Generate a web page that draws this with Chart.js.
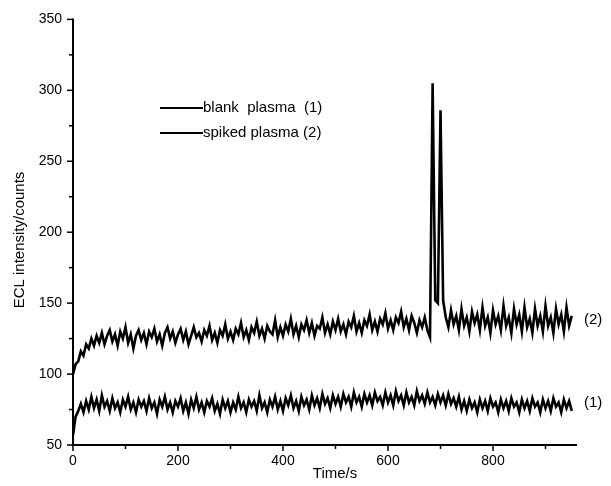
<!DOCTYPE html>
<html>
<head>
<meta charset="utf-8">
<script src="https://cdn.jsdelivr.net/npm/chart.js@4.4.0/dist/chart.umd.min.js"></script>
<style>
  html, body { margin: 0; padding: 0; background: #fff; }
  #wrap { width: 611px; height: 486px; position: relative; }
</style>
</head>
<body>
<div id="wrap"><canvas id="chart" width="611" height="486"></canvas></div>
<script>
// sampling interval of the traces, seconds
const TIME_STEP = 5;

const xTicks = [0, 200, 400, 600, 800];
const yTicks = [50, 100, 150, 200, 250, 300, 350];

const seriesNames = ['blank  plasma  (1)', 'spiked plasma (2)'];
const traceTags = ['(1)', '(2)'];

// blank plasma (1), one value every 5 s from 0 to 950 s
const blankPlasma = [
  57,70,74,79,73,81,75,84,76,82,
  74,85,77,81,74,83,76,80,73,82,
  77,84,75,80,73,82,77,81,74,83,
  76,80,72,82,77,84,75,80,73,81,
  77,83,74,80,72,82,76,84,75,80,
  73,81,77,83,74,79,72,82,76,81,
  73,80,75,84,76,80,73,82,77,81,
  74,85,76,80,73,82,77,84,75,81,
  74,83,78,85,76,81,74,84,78,82,
  75,85,78,83,76,86,79,83,76,85,
  79,84,77,86,80,84,77,87,80,84,
  77,86,80,85,78,87,81,84,78,87,
  80,85,78,88,81,85,78,87,80,84,
  78,88,81,85,79,87,80,84,78,86,
  80,85,78,86,79,83,77,84,75,81,
  74,82,76,80,73,82,76,81,74,83,
  77,80,73,82,76,81,74,83,77,80,
  73,82,76,81,74,83,77,80,73,82,
  76,81,74,83,77,80,73,82,76,81,
  74
];

// spiked plasma (2)
const spikedPlasma = [
  100,107,109,116,113,121,118,125,120,127,
  122,129,121,127,131,123,128,120,130,125,
  133,122,128,118,127,131,124,129,121,130,
  126,132,123,128,120,129,133,125,130,122,
  128,132,124,130,121,127,133,126,129,123,
  131,127,134,124,129,122,131,127,135,125,
  130,124,132,128,136,126,131,124,133,129,
  137,127,132,125,134,130,128,138,126,133,
  127,135,130,139,128,134,126,135,131,138,
  129,136,127,134,132,140,129,135,128,137,
  131,139,130,135,128,137,133,141,130,136,
  129,138,134,142,131,137,130,139,135,143,
  132,138,131,140,136,144,133,139,131,141,
  136,129,138,133,140,131,126,305,152,150,
  286,152,140,133,145,135,141,131,146,134,
  140,130,144,136,142,131,147,134,140,129,
  145,135,141,131,148,134,140,129,146,135,
  142,130,147,133,139,129,146,134,141,130,
  148,134,140,129,146,135,142,130,147,134,
  141
];

function toPoints(values) {
  return values.map((v, i) => ({ x: i * TIME_STEP, y: v }));
}

const FONT = '"Liberation Sans", Arial, sans-serif';

const decorPlugin = {
  id: 'decor',
  afterDraw(chart) {
    const ctx = chart.ctx;
    const xs = chart.scales.x;
    const ys = chart.scales.y;
    const area = chart.chartArea;
    ctx.save();
    ctx.strokeStyle = '#000';
    ctx.lineWidth = 2;
    // axis lines
    ctx.beginPath();
    ctx.moveTo(area.left, area.top - 1);
    ctx.lineTo(area.left, area.bottom);
    ctx.lineTo(area.right, area.bottom);
    ctx.stroke();
    // major and minor ticks
    ctx.lineWidth = 1.5;
    for (let v = 0; v <= xs.max; v += 100) {
      const px = xs.getPixelForValue(v);
      const len = v % 200 === 0 ? 6 : 4;
      ctx.beginPath();
      ctx.moveTo(px, area.bottom);
      ctx.lineTo(px, area.bottom + len);
      ctx.stroke();
    }
    for (let v = ys.min; v <= ys.max; v += 25) {
      const py = ys.getPixelForValue(v);
      const len = v % 50 === 0 ? 6 : 4;
      ctx.beginPath();
      ctx.moveTo(area.left, py);
      ctx.lineTo(area.left - len, py);
      ctx.stroke();
    }
    // axis titles
    ctx.fillStyle = '#000';
    ctx.font = '15px ' + FONT;
    ctx.textAlign = 'center';
    ctx.textBaseline = 'middle';
    ctx.fillText('Time/s', 335, 474);
    ctx.save();
    ctx.translate(20, 240);
    ctx.rotate(-Math.PI / 2);
    ctx.fillText('ECL intensity/counts', 0, 0);
    ctx.restore();
    // legend
    ctx.textAlign = 'left';
    ctx.lineWidth = 1.8;
    const legY = [108, 133];
    seriesNames.forEach((name, i) => {
      ctx.beginPath();
      ctx.moveTo(160, legY[i]);
      ctx.lineTo(203, legY[i]);
      ctx.stroke();
      ctx.fillText(name, 203, legY[i]);
    });
    // trace tags on the right
    ctx.font = '15px ' + FONT;
    ctx.fillText(traceTags[1], 584, ys.getPixelForValue(138));
    ctx.fillText(traceTags[0], 584, ys.getPixelForValue(80));
    ctx.restore();
  }
};

function traceStyle(label, values) {
  return {
    label,
    data: toPoints(values),
    showLine: true,
    borderColor: '#000',
    borderWidth: 2.6,
    pointRadius: 0,
    tension: 0
  };
}

new Chart(document.getElementById('chart'), {
  type: 'scatter',
  data: {
    datasets: [
      traceStyle(seriesNames[0], blankPlasma),
      traceStyle(seriesNames[1], spikedPlasma)
    ]
  },
  options: {
    responsive: false,
    animation: false,
    layout: { padding: { left: 0, right: 34, top: 18, bottom: 0 } },
    plugins: { legend: { display: false }, tooltip: { enabled: false } },
    scales: {
      x: {
        type: 'linear',
        min: 0,
        max: 960,
        afterFit: s => { s.height = 41; },
        afterBuildTicks: s => { s.ticks = xTicks.map(v => ({ value: v })); },
        grid: { display: false, drawTicks: false },
        border: { display: false },
        ticks: { padding: 8, color: '#000', font: { family: FONT, size: 14 } }
      },
      y: {
        min: 50,
        max: 350,
        afterFit: s => { s.width = 73; },
        afterBuildTicks: s => { s.ticks = yTicks.map(v => ({ value: v })); },
        grid: { display: false, drawTicks: false },
        border: { display: false },
        ticks: { padding: 11, color: '#000', font: { family: FONT, size: 14 } }
      }
    }
  },
  plugins: [decorPlugin]
});
</script>
</body>
</html>
